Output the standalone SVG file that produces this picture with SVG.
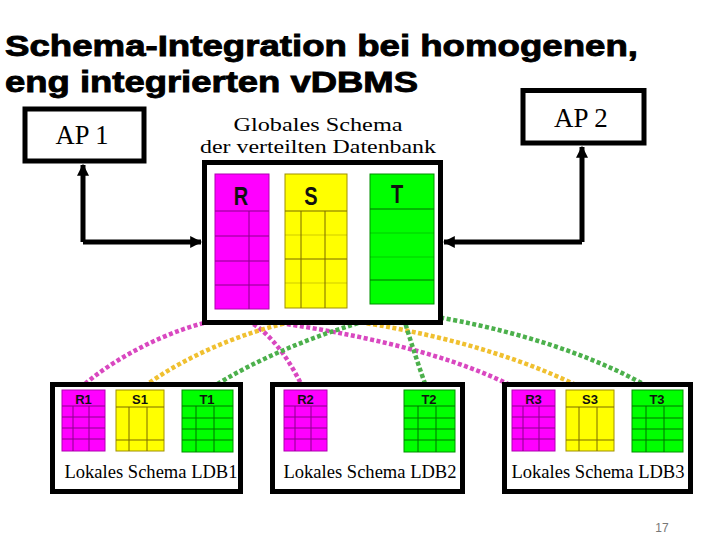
<svg xmlns="http://www.w3.org/2000/svg" width="720" height="540" viewBox="0 0 720 540">
<style>
.title{font-family:"Liberation Sans",Arial,sans-serif;font-weight:bold;font-size:30px;fill:#000;stroke:#000;stroke-width:0.9}
.serif{font-family:"Liberation Serif","Times New Roman",serif;fill:#000}
.box{fill:#fff;stroke:#000;stroke-width:5}
.tl{font-family:"Liberation Sans",Arial,sans-serif;font-weight:bold;fill:#111;text-anchor:middle}
.mg{fill:#ff00ff;stroke:#b000b0;stroke-width:1}
.ye{fill:#ffff00;stroke:#a09000;stroke-width:1}
.gr{fill:#00ff00;stroke:#009000;stroke-width:1}
.lm{stroke:#8a008a;stroke-width:1;fill:none}
.ly{stroke:#7a6a00;stroke-width:1;fill:none}
.lg{stroke:#007000;stroke-width:1;fill:none}
.faint{stroke-opacity:0.35}
.conn{fill:none;stroke:#000;stroke-width:5}
.dot{fill:none;stroke-width:4.5;stroke-dasharray:4 2.5}
.dm{stroke:#d948c0}
.dy{stroke:#f0c030}
.dg{stroke:#4cb04c}
</style>
<defs>
<marker id="ah" viewBox="0 0 10 10" refX="9" refY="5" markerWidth="2.4" markerHeight="2.4" orient="auto" markerUnits="strokeWidth">
<path d="M0,0 L10,5 L0,10 z" fill="#000"/>
</marker>
<symbol id="sR" overflow="visible">
<rect class="mg" x="0" y="0" width="43" height="61"/>
<path class="lm" d="M0,16H43M0,27H43M0,38H43M0,49H43M11,16V61M27,16V61"/>
</symbol>
<symbol id="sS" overflow="visible">
<rect class="ye" x="0" y="0" width="48" height="61"/>
<path class="ly" d="M0,17H48M0,50H48M13,17V61M31,17V61"/>
</symbol>
<symbol id="sT" overflow="visible">
<rect class="gr" x="0" y="0" width="51" height="62"/>
<path class="lg" d="M0,16H51M0,28H51M0,39H51M0,50H51M14,16V62M32,16V62"/>
</symbol>
</defs>
<rect width="720" height="540" fill="#fff"/>
<text class="title" x="5" y="56" textLength="633" lengthAdjust="spacingAndGlyphs">Schema-Integration bei homogenen,</text>
<text class="title" x="5" y="92" textLength="413" lengthAdjust="spacingAndGlyphs">eng integrierten vDBMS</text>

<g id="connectors">
<path class="conn" d="M83,242V165" marker-end="url(#ah)"/>
<path class="conn" d="M83,242H201" marker-end="url(#ah)"/>
<path class="conn" d="M582,242V147" marker-end="url(#ah)"/>
<path class="conn" d="M582,242H444" marker-end="url(#ah)"/>
<path class="dot dm" d="M242,318 C200,316 120,350 76,392"/>
<path class="dot dm" d="M242,318 C270,330 290,360 305,392"/>
<path class="dot dm" d="M242,318 C300,325 440,345 523,392"/>
<path class="dot dy" d="M322,317 C270,322 190,350 137,392"/>
<path class="dot dy" d="M322,317 C390,325 500,345 590,392"/>
<path class="dot dg" d="M402,312 C340,325 260,355 205,392"/>
<path class="dot dg" d="M402,312 C410,340 420,370 428,392"/>
<path class="dot dg" d="M402,312 C470,320 580,345 657,392"/>
</g>

<g id="ap1">
<rect class="box" x="25" y="109" width="119" height="52" stroke-width="4.5"/>
<text class="serif" x="82" y="144" font-size="26.5" text-anchor="middle">AP 1</text>
</g>
<g id="ap2">
<rect class="box" x="523" y="90.5" width="121" height="52.5" stroke-width="4.5"/>
<text class="serif" x="581" y="127" font-size="27" text-anchor="middle">AP 2</text>
</g>

<g id="global-label">
<text class="serif" x="318" y="131" font-size="19.5" text-anchor="middle" textLength="169" lengthAdjust="spacingAndGlyphs">Globales Schema</text>
<text class="serif" x="318" y="153" font-size="19.5" text-anchor="middle" textLength="236" lengthAdjust="spacingAndGlyphs">der verteilten Datenbank</text>
</g>

<g id="global">
<rect class="box" x="204.5" y="162.5" width="236" height="160"/>
<rect class="mg" x="215" y="174" width="54" height="135"/>
<path class="lm" d="M215,211H269M215,236H269M215,261H269M215,285H269M249,211V309"/>
<text class="tl" x="241" y="205" font-size="25" transform="translate(241 0) scale(0.8 1) translate(-241 0)">R</text>
<rect class="ye" x="285" y="174" width="62" height="134"/>
<path class="ly" d="M285,211H347M285,259H347M301,211V308M325,211V308"/>
<path class="ly faint" d="M285,235H347M285,283H347"/>
<text class="tl" x="311" y="205" font-size="25" transform="translate(311 0) scale(0.8 1) translate(-311 0)">S</text>
<rect class="gr" x="370" y="174" width="64" height="130"/>
<path class="lg" d="M370,209H434M370,280H434"/>
<path class="lg faint" d="M370,233H434M370,257H434"/>
<text class="tl" x="397" y="203" font-size="25" transform="translate(397 0) scale(0.8 1) translate(-397 0)">T</text>
</g>

<g id="ldb1">
<rect class="box" x="52.5" y="384.5" width="188" height="107"/>
<use href="#sR" x="62" y="390"/>
<use href="#sS" x="116" y="390"/>
<use href="#sT" x="182" y="390"/>
<text class="tl" x="83.5" y="404" font-size="13">R1</text>
<text class="tl" x="140" y="404" font-size="13">S1</text>
<text class="tl" x="207" y="404" font-size="13">T1</text>
<text class="serif" x="151" y="478" font-size="18" text-anchor="middle" textLength="173" lengthAdjust="spacingAndGlyphs">Lokales Schema LDB1</text>
</g>

<g id="ldb2">
<rect class="box" x="272.5" y="384.5" width="190" height="107"/>
<use href="#sR" x="284" y="390"/>
<use href="#sT" x="404" y="390"/>
<text class="tl" x="305.5" y="404" font-size="13">R2</text>
<text class="tl" x="429" y="404" font-size="13">T2</text>
<text class="serif" x="370" y="478" font-size="18" text-anchor="middle" textLength="173" lengthAdjust="spacingAndGlyphs">Lokales Schema LDB2</text>
</g>

<g id="ldb3">
<rect class="box" x="504.5" y="384.5" width="186" height="107"/>
<use href="#sR" x="512" y="390"/>
<use href="#sS" x="566" y="390"/>
<use href="#sT" x="632" y="390"/>
<text class="tl" x="533.5" y="404" font-size="13">R3</text>
<text class="tl" x="590" y="404" font-size="13">S3</text>
<text class="tl" x="657" y="404" font-size="13">T3</text>
<text class="serif" x="598" y="478" font-size="18" text-anchor="middle" textLength="173" lengthAdjust="spacingAndGlyphs">Lokales Schema LDB3</text>
</g>

<text x="662" y="532" font-family="Liberation Sans,Arial,sans-serif" font-size="12" fill="#777" text-anchor="middle">17</text>
</svg>
